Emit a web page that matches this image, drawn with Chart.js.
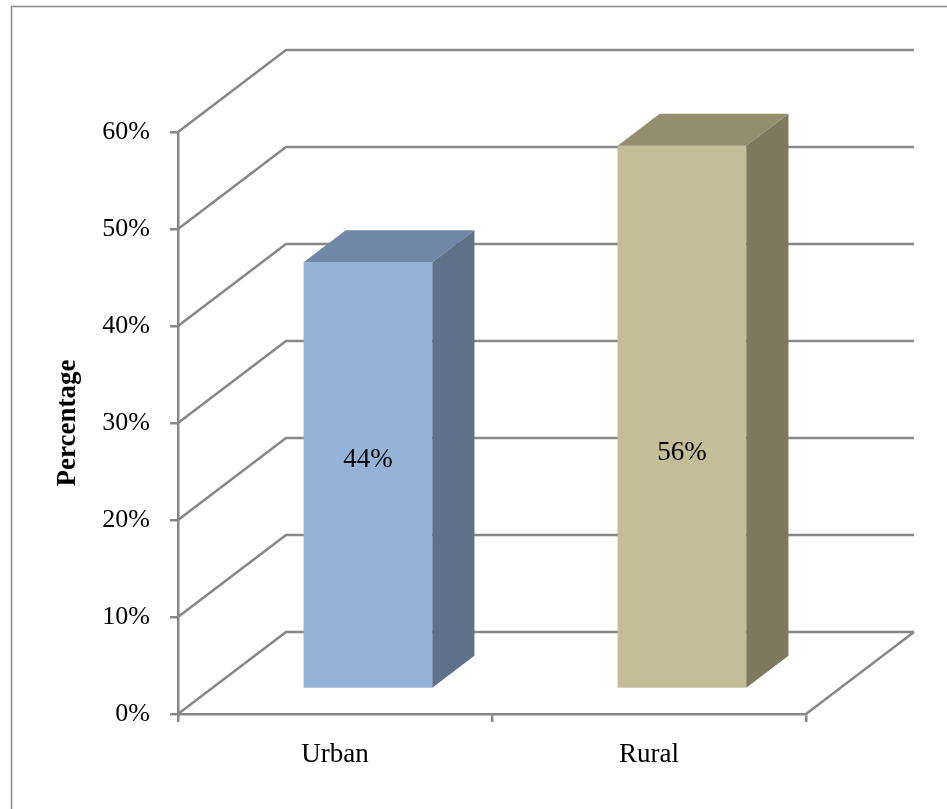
<!DOCTYPE html>
<html>
<head>
<meta charset="utf-8">
<title>Urban vs Rural</title>
<script src="https://cdn.jsdelivr.net/npm/chart.js@4/dist/chart.umd.min.js"></script>
<style>
  html, body { margin: 0; padding: 0; background: #fff; }
</style>
</head>
<body>
<canvas id="chart" width="947" height="809"></canvas>
<script>
// ---- data ----
const categories = ['Urban', 'Rural'];
const values = [44, 56];
const yMin = 0, yMax = 60, yStep = 10;

// ---- styles ----
const frontColors = ['#95b3d7', '#c4bd97'];
const topColors = ['#7088a5', '#948e6f'];
const sideColors = ['#5e7189', '#7e785f'];

const DEPTH_X = 108, DEPTH_Y = 82;      // floor depth in pixels
const BAR_FRONT = 0.305, BAR_BACK = 0.695; // bar placement along depth
const LABEL_AT = [23.6, 24.3];          // value level where each data label sits
const GRID = '#878787';
const FONT = "'Liberation Serif', 'Times New Roman', serif";

// draws the walls, the floor and the boxes on top of Chart.js scales
const box3d = {
    id: 'box3d',
    beforeDraw(chart) {
        const ctx = chart.ctx;
        ctx.save();
        ctx.strokeStyle = GRID;
        ctx.lineWidth = 1.5;
        ctx.strokeRect(11.5, 6.5, 2000, 2000);
        ctx.restore();
    },
    beforeDatasetsDraw(chart) {
        const { ctx, chartArea: a, scales: { y } } = chart;
        ctx.save();
        ctx.strokeStyle = GRID;
        ctx.lineWidth = 2.5;
        y.ticks.forEach(t => {
            const py = y.getPixelForValue(t.value);
            ctx.beginPath();
            ctx.moveTo(a.left, py);
            ctx.lineTo(a.left + DEPTH_X, py - DEPTH_Y);
            ctx.lineTo(a.right + DEPTH_X, py - DEPTH_Y);
            ctx.stroke();
        });
        // right edge of the floor
        const p0 = y.getPixelForValue(yMin);
        ctx.beginPath();
        ctx.moveTo(a.right, p0);
        ctx.lineTo(a.right + DEPTH_X, p0 - DEPTH_Y);
        ctx.stroke();
        ctx.restore();
    },
    afterDatasetsDraw(chart) {
        const { ctx, scales: { y } } = chart;
        const meta = chart.getDatasetMeta(0);
        const fx = BAR_FRONT * DEPTH_X, fy = BAR_FRONT * DEPTH_Y;
        const bx = BAR_BACK * DEPTH_X, by = BAR_BACK * DEPTH_Y;
        ctx.save();
        meta.data.forEach((el, i) => {
            const l = el.x - el.width / 2, r = el.x + el.width / 2;
            const top = el.y, base = el.base;

            // front face
            ctx.fillStyle = frontColors[i];
            ctx.fillRect(l + fx, top - fy, r - l, base - top);

            // top face
            ctx.fillStyle = topColors[i];
            ctx.beginPath();
            ctx.moveTo(l + fx, top - fy);
            ctx.lineTo(r + fx, top - fy);
            ctx.lineTo(r + bx, top - by);
            ctx.lineTo(l + bx, top - by);
            ctx.closePath();
            ctx.fill();

            // side face
            ctx.fillStyle = sideColors[i];
            ctx.beginPath();
            ctx.moveTo(r + fx, top - fy);
            ctx.lineTo(r + bx, top - by);
            ctx.lineTo(r + bx, base - by);
            ctx.lineTo(r + fx, base - fy);
            ctx.closePath();
            ctx.fill();

            // data label
            ctx.fillStyle = '#000';
            ctx.font = '27px ' + FONT;
            ctx.textAlign = 'center';
            ctx.textBaseline = 'middle';
            ctx.fillText(values[i] + '%', el.x + fx, y.getPixelForValue(LABEL_AT[i]) - fy);
        });
        ctx.restore();
    }
};

new Chart(document.getElementById('chart'), {
    type: 'bar',
    data: {
        labels: categories,
        datasets: [{
            data: values,
            backgroundColor: 'rgba(0,0,0,0)',
            borderWidth: 0,
            categoryPercentage: 1,
            barPercentage: 0.41
        }]
    },
    options: {
        responsive: false,
        animation: false,
        devicePixelRatio: 1,
        layout: { padding: { top: 132, right: 141, left: 0, bottom: 0 } },
        plugins: {
            legend: { display: false },
            tooltip: { enabled: false }
        },
        scales: {
            x: {
                afterFit(scale) { scale.height = 95; },
                grid: { offset: true, drawOnChartArea: false, color: GRID, lineWidth: 2.5, tickLength: 8 },
                border: { color: GRID, width: 2.5 },
                ticks: {
                    color: '#000',
                    padding: 17,
                    maxRotation: 0,
                    autoSkip: false,
                    font: { family: FONT, size: 27 }
                }
            },
            y: {
                min: yMin,
                max: yMax,
                afterFit(scale) { scale.width = 178; },
                grid: { drawOnChartArea: false, color: GRID, lineWidth: 2.5, tickLength: 8 },
                border: { color: GRID, width: 2.5 },
                ticks: {
                    stepSize: yStep,
                    color: '#000',
                    padding: 20,
                    font: { family: FONT, size: 26 },
                    callback: v => v + '%'
                },
                title: {
                    display: true,
                    text: 'Percentage',
                    color: '#000',
                    padding: { top: 52, bottom: 0 },
                    font: { family: FONT, size: 27, weight: 'bold' }
                }
            }
        }
    },
    plugins: [box3d]
});
</script>
</body>
</html>
